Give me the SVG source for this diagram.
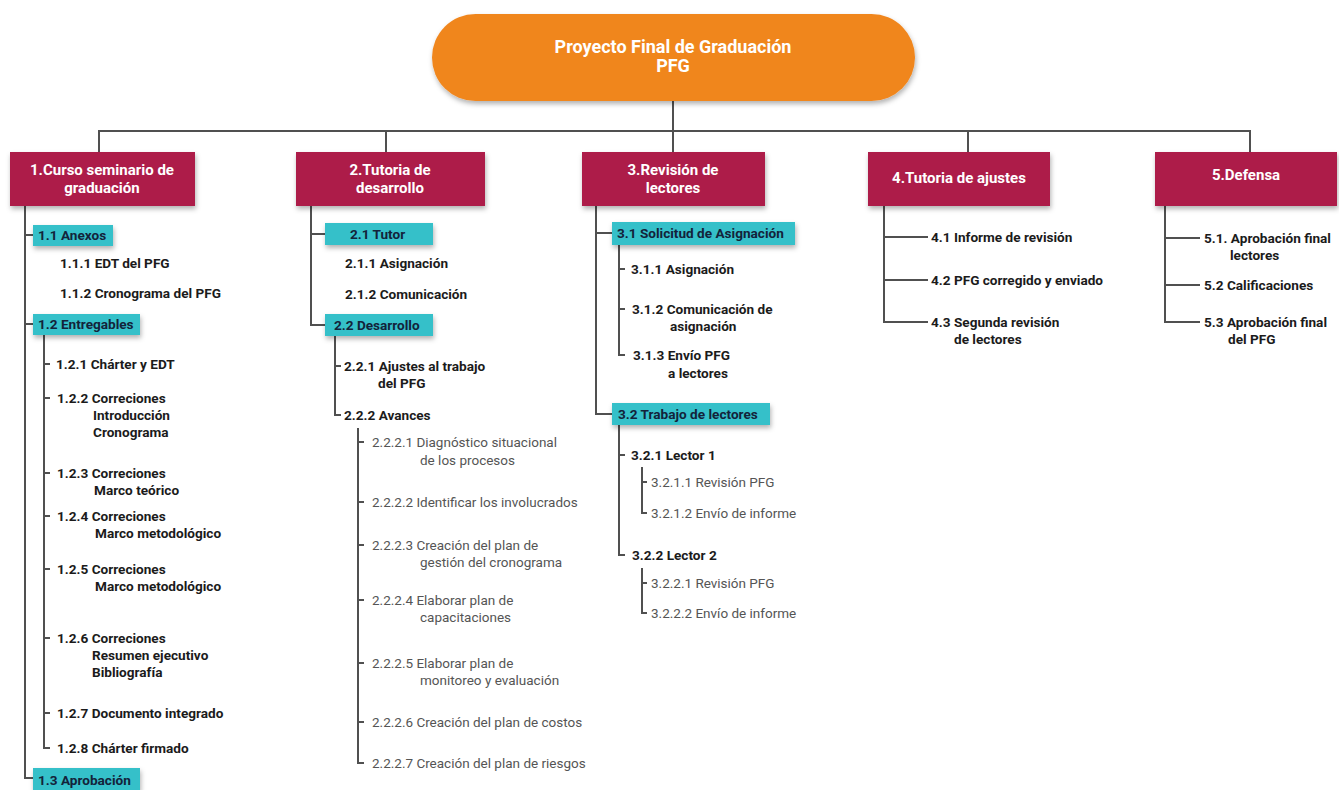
<svg xmlns="http://www.w3.org/2000/svg" width="1339" height="790" viewBox="0 0 1339 790">
  <style>
    .root { fill: #F0861F; }
    .phase { fill: #AD1A4A; }
    .pkg { fill: #35C0C9; }
    .t-root { font-family: Roboto, "Liberation Sans", sans-serif; font-weight: 700; font-size: 18px; fill: #ffffff; text-anchor: middle; }
    .t-phase { font-family: Roboto, "Liberation Sans", sans-serif; font-weight: 700; font-size: 15px; fill: #ffffff; text-anchor: middle; }
    .t-pkg { font-family: Roboto, "Liberation Sans", sans-serif; font-weight: 700; font-size: 13.6px; fill: #13233a; }
    .t-item { font-family: Roboto, "Liberation Sans", sans-serif; font-weight: 700; font-size: 13.6px; fill: #1b1b1b; }
    .t-sub { font-family: Roboto, "Liberation Sans", sans-serif; font-weight: 400; font-size: 13.5px; fill: #555555; }
    .ln { fill: none; stroke: #505050; stroke-width: 2; }
  </style>
  <defs>
    <filter id="shadow" x="-10%" y="-20%" width="125%" height="160%">
      <feDropShadow dx="1" dy="3" stdDeviation="2.5" flood-color="#000" flood-opacity="0.3"/>
    </filter>
  </defs>

  <!-- connectors -->
  <g id="connectors">
    <!-- root to phases -->
    <path class="ln" d="M673 101 V131 M99 152 V131 H1250 V152 M386 131 V152 M673 131 V152 M968 131 V152"/>
    <!-- phase 1 -->
    <path class="ln" d="M25 206 V778 H33 M25 235 H33 M25 324 H33"/>
    <path class="ln" d="M44 334 V748 H50 M44 364 H50 M44 398 H50 M44 473 H50 M44 516 H50 M44 569 H50 M44 638 H50 M44 713 H50"/>
    <!-- phase 2 -->
    <path class="ln" d="M311 206 V325 H325 M311 234 H325"/>
    <path class="ln" d="M335 336 V415 H341 M335 366 H341"/>
    <path class="ln" d="M358 428 V763 H364 M358 442 H364 M358 502 H364 M358 545 H364 M358 600 H364 M358 663 H364 M358 722 H364"/>
    <!-- phase 3 -->
    <path class="ln" d="M596 206 V414 H612 M596 233 H612"/>
    <path class="ln" d="M619 245 V355 H625 M619 269 H625 M619 309 H625"/>
    <path class="ln" d="M619 425 V555 H625 M619 455 H625"/>
    <path class="ln" d="M642 467 V513 H647 M642 482 H647"/>
    <path class="ln" d="M642 568 V613 H647 M642 583 H647"/>
    <!-- phase 4 -->
    <path class="ln" d="M884 206 V322 H928 M884 237 H928 M884 280 H928"/>
    <!-- phase 5 -->
    <path class="ln" d="M1165 206 V322 H1200 M1165 238 H1200 M1165 285 H1200"/>
  </g>

  <!-- root -->
  <g id="root">
    <rect class="root" x="432" y="14" width="483" height="87" rx="43.5" filter="url(#shadow)"/>
    <text class="t-root" x="673" y="53">Proyecto Final de Graduación</text>
    <text class="t-root" x="673" y="72">PFG</text>
  </g>

  <!-- phase 1 -->
  <g id="phase1">
    <rect class="phase" x="10" y="152" width="185" height="54" filter="url(#shadow)"/>
    <text class="t-phase" x="102" y="175">1.Curso seminario de</text>
    <text class="t-phase" x="102" y="193">graduación</text>
  </g>
  <g id="p1-1">
    <rect class="pkg" x="33" y="225" width="80" height="21" filter="url(#shadow)"/>
    <text class="t-pkg" x="38" y="240">1.1 Anexos</text>
  </g>
  <g id="p1-1-1"><text class="t-item" x="60" y="268">1.1.1 EDT del PFG</text></g>
  <g id="p1-1-2"><text class="t-item" x="60" y="298">1.1.2 Cronograma del PFG</text></g>
  <g id="p1-2">
    <rect class="pkg" x="33" y="314" width="107" height="21" filter="url(#shadow)"/>
    <text class="t-pkg" x="38" y="329">1.2 Entregables</text>
  </g>
  <g id="p1-2-1"><text class="t-item" x="56" y="369">1.2.1 Chárter y EDT</text></g>
  <g id="p1-2-2"><text class="t-item" x="57" y="403">1.2.2 Correciones</text><text class="t-item" x="93" y="420">Introducción</text><text class="t-item" x="93" y="437">Cronograma</text></g>
  <g id="p1-2-3"><text class="t-item" x="57" y="478">1.2.3 Correciones</text><text class="t-item" x="94" y="495">Marco teórico</text></g>
  <g id="p1-2-4"><text class="t-item" x="57" y="521">1.2.4 Correciones</text><text class="t-item" x="95" y="538">Marco metodológico</text></g>
  <g id="p1-2-5"><text class="t-item" x="57" y="574">1.2.5 Correciones</text><text class="t-item" x="95" y="591">Marco metodológico</text></g>
  <g id="p1-2-6"><text class="t-item" x="57" y="643">1.2.6 Correciones</text><text class="t-item" x="92" y="660">Resumen ejecutivo</text><text class="t-item" x="92" y="677">Bibliografía</text></g>
  <g id="p1-2-7"><text class="t-item" x="57" y="718">1.2.7 Documento integrado</text></g>
  <g id="p1-2-8"><text class="t-item" x="57" y="753">1.2.8 Chárter firmado</text></g>
  <g id="p1-3">
    <rect class="pkg" x="33" y="768" width="107" height="22" filter="url(#shadow)"/>
    <text class="t-pkg" x="38" y="785">1.3 Aprobación</text>
  </g>

  <!-- phase 2 -->
  <g id="phase2">
    <rect class="phase" x="296" y="152" width="189" height="54" filter="url(#shadow)"/>
    <text class="t-phase" x="390" y="175">2.Tutoria de</text>
    <text class="t-phase" x="390" y="193">desarrollo</text>
  </g>
  <g id="p2-1">
    <rect class="pkg" x="325" y="223" width="108" height="22" filter="url(#shadow)"/>
    <text class="t-pkg" x="350" y="239">2.1 Tutor</text>
  </g>
  <g id="p2-1-1"><text class="t-item" x="345" y="268">2.1.1 Asignación</text></g>
  <g id="p2-1-2"><text class="t-item" x="345" y="299">2.1.2 Comunicación</text></g>
  <g id="p2-2">
    <rect class="pkg" x="325" y="314" width="108" height="22" filter="url(#shadow)"/>
    <text class="t-pkg" x="334" y="330">2.2 Desarrollo</text>
  </g>
  <g id="p2-2-1"><text class="t-item" x="344" y="371">2.2.1 Ajustes al trabajo</text><text class="t-item" x="378" y="388">del PFG</text></g>
  <g id="p2-2-2"><text class="t-item" x="344" y="420">2.2.2 Avances</text></g>
  <g id="p2-2-2-1"><text class="t-sub" x="372" y="447">2.2.2.1 Diagnóstico situacional</text><text class="t-sub" x="420" y="465">de los procesos</text></g>
  <g id="p2-2-2-2"><text class="t-sub" x="372" y="507">2.2.2.2 Identificar los involucrados</text></g>
  <g id="p2-2-2-3"><text class="t-sub" x="372" y="550">2.2.2.3 Creación del plan de</text><text class="t-sub" x="420" y="567">gestión del cronograma</text></g>
  <g id="p2-2-2-4"><text class="t-sub" x="372" y="605">2.2.2.4 Elaborar plan de</text><text class="t-sub" x="420" y="622">capacitaciones</text></g>
  <g id="p2-2-2-5"><text class="t-sub" x="372" y="668">2.2.2.5 Elaborar plan de</text><text class="t-sub" x="420" y="685">monitoreo y evaluación</text></g>
  <g id="p2-2-2-6"><text class="t-sub" x="372" y="727">2.2.2.6 Creación del plan de costos</text></g>
  <g id="p2-2-2-7"><text class="t-sub" x="372" y="768">2.2.2.7 Creación del plan de riesgos</text></g>

  <!-- phase 3 -->
  <g id="phase3">
    <rect class="phase" x="582" y="152" width="183" height="54" filter="url(#shadow)"/>
    <text class="t-phase" x="673" y="175">3.Revisión de</text>
    <text class="t-phase" x="673" y="193">lectores</text>
  </g>
  <g id="p3-1">
    <rect class="pkg" x="612" y="222" width="183" height="23" filter="url(#shadow)"/>
    <text class="t-pkg" x="617" y="238">3.1 Solicitud de Asignación</text>
  </g>
  <g id="p3-1-1"><text class="t-item" x="631" y="274">3.1.1 Asignación</text></g>
  <g id="p3-1-2"><text class="t-item" x="632" y="314">3.1.2 Comunicación de</text><text class="t-item" x="670" y="331">asignación</text></g>
  <g id="p3-1-3"><text class="t-item" x="633" y="360">3.1.3 Envío PFG</text><text class="t-item" x="668" y="378">a lectores</text></g>
  <g id="p3-2">
    <rect class="pkg" x="612" y="403" width="158" height="22" filter="url(#shadow)"/>
    <text class="t-pkg" x="618" y="419">3.2 Trabajo de lectores</text>
  </g>
  <g id="p3-2-1"><text class="t-item" x="631" y="460">3.2.1 Lector 1</text></g>
  <g id="p3-2-1-1"><text class="t-sub" x="651" y="487">3.2.1.1 Revisión PFG</text></g>
  <g id="p3-2-1-2"><text class="t-sub" x="651" y="518">3.2.1.2 Envío de informe</text></g>
  <g id="p3-2-2"><text class="t-item" x="632" y="560">3.2.2 Lector 2</text></g>
  <g id="p3-2-2-1"><text class="t-sub" x="651" y="588">3.2.2.1 Revisión PFG</text></g>
  <g id="p3-2-2-2"><text class="t-sub" x="651" y="618">3.2.2.2 Envío de informe</text></g>

  <!-- phase 4 -->
  <g id="phase4">
    <rect class="phase" x="868" y="152" width="182" height="54" filter="url(#shadow)"/>
    <text class="t-phase" x="959" y="183">4.Tutoria de ajustes</text>
  </g>
  <g id="p4-1"><text class="t-item" x="931" y="242">4.1 Informe de revisión</text></g>
  <g id="p4-2"><text class="t-item" x="931" y="285">4.2 PFG corregido y enviado</text></g>
  <g id="p4-3"><text class="t-item" x="931" y="327">4.3 Segunda revisión</text><text class="t-item" x="954" y="344">de lectores</text></g>

  <!-- phase 5 -->
  <g id="phase5">
    <rect class="phase" x="1155" y="152" width="182" height="54" filter="url(#shadow)"/>
    <text class="t-phase" x="1246" y="180">5.Defensa</text>
  </g>
  <g id="p5-1"><text class="t-item" x="1204" y="243">5.1. Aprobación final</text><text class="t-item" x="1230" y="260">lectores</text></g>
  <g id="p5-2"><text class="t-item" x="1204" y="290">5.2 Calificaciones</text></g>
  <g id="p5-3"><text class="t-item" x="1204" y="327">5.3 Aprobación final</text><text class="t-item" x="1228" y="344">del PFG</text></g>
</svg>
